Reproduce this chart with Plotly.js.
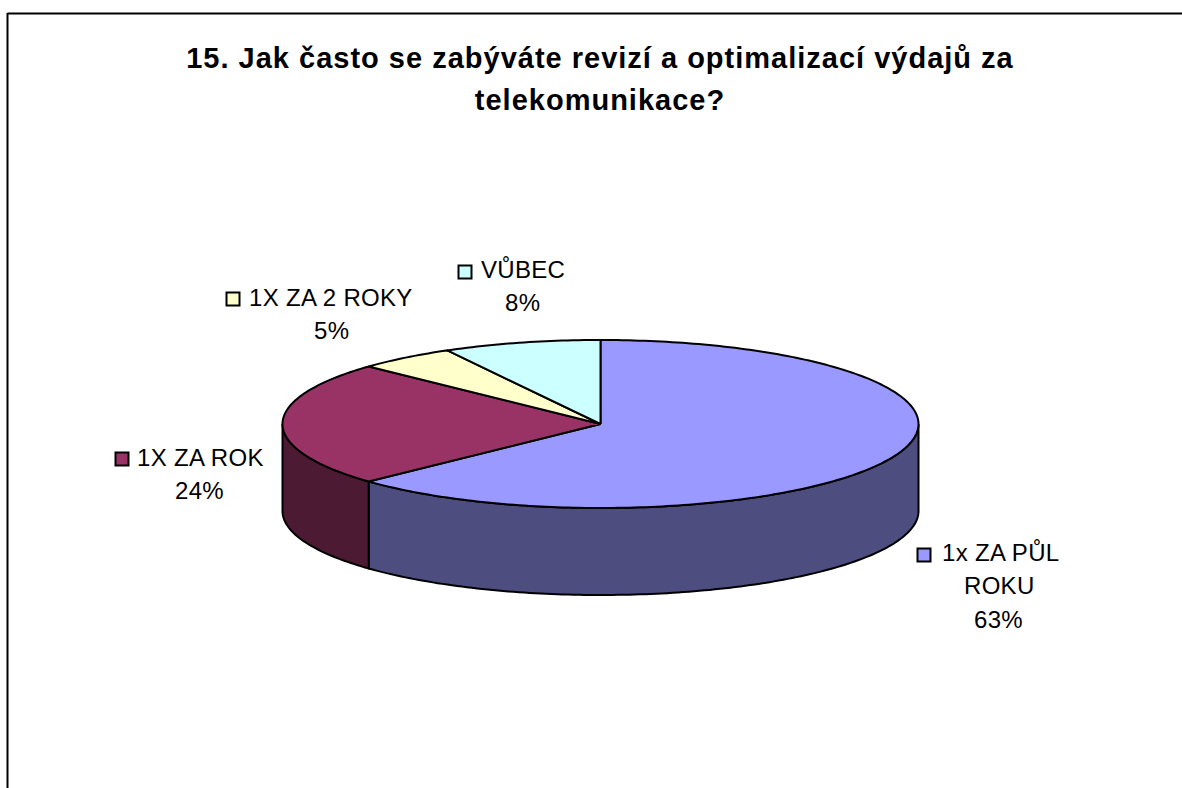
<!DOCTYPE html>
<html>
<head>
<meta charset="utf-8">
<script src="https://cdn.plot.ly/plotly-3.0.1.min.js"></script>
<style>
html,body{margin:0;padding:0;background:#fff;overflow:hidden}
#chart{width:1182px;height:788px}
.gtitle{letter-spacing:1px}
.annotation-text{letter-spacing:.3px}
</style>
</head>
<body>
<div id="chart"></div>
<script>
// Data
const categories = ["1x ZA PŮL ROKU", "1X ZA ROK", "1X ZA 2 ROKY", "VŮBEC"];
const percents = [63, 24, 5, 8];
const labelLines = [["1x ZA PŮL", "ROKU"], ["1X ZA ROK"], ["1X ZA 2 ROKY"], ["VŮBEC"]];
const chartTitle = "15. Jak často se zabýváte revizí a optimalizací výdajů za<br>telekomunikace?";

// Styles and geometry
const topColors = ["#9999FF", "#993366", "#FFFFCC", "#CCFFFF"];
const wallColors = ["#4D4D80", "#4D1A33", "#808066", "#668080"];
const pie = {cx: 600.5, cy: 424, rx: 318, ry: 84, depth: 87};
const placement = [
  {key: [924, 555], centers: [1000, 999], ys: [552, 585], pctX: 998.5, pctY: 619},
  {key: [122, 459], centers: [200], ys: [457], pctX: 199, pctY: 490},
  {key: [233, 299], centers: [330.5], ys: [297], pctX: 331, pctY: 330},
  {key: [465, 272], centers: [523], ys: [269], pctX: 522, pctY: 302}
];

function pt(deg, dy) {
  const a = deg * Math.PI / 180;
  return [pie.cx + pie.rx * Math.sin(a), pie.cy - pie.ry * Math.cos(a) + (dy || 0)];
}
function arc(a0, a1, dy) {
  const out = [], n = Math.max(2, Math.ceil(Math.abs(a1 - a0)));
  for (let i = 0; i <= n; i++) out.push(pt(a0 + (a1 - a0) * i / n, dy));
  return out;
}
function poly(points, fill) {
  return {
    type: "scatter", mode: "lines", fill: "toself", fillcolor: fill,
    x: points.map(p => p[0]), y: points.map(p => p[1]),
    line: {color: "#000", width: 2, simplify: false},
    hoverinfo: "skip", showlegend: false
  };
}

const total = percents.reduce((s, v) => s + v, 0);
const walls = [], tops = [], keys = [], annotations = [];
const labelFont = {family: "Liberation Sans", size: 24, color: "#000"};
let start = 0;
percents.forEach((v, i) => {
  const end = start + v / total * 360;
  const w0 = Math.max(start, 90), w1 = Math.min(end, 270);
  if (w1 > w0) {
    const pts = arc(w0, w1, 0).concat(arc(w1, w0, pie.depth));
    pts.push(pts[0]);
    walls.push(poly(pts, wallColors[i]));
  }
  const wedge = [[pie.cx, pie.cy]].concat(arc(start, end, 0));
  wedge.push([pie.cx, pie.cy]);
  tops.push(Object.assign(poly(wedge, topColors[i]), {name: categories[i]}));

  const pl = placement[i];
  keys.push({
    type: "scatter", mode: "markers", x: [pl.key[0]], y: [pl.key[1]],
    marker: {symbol: "square", size: 13, color: topColors[i], line: {color: "#000", width: 2}},
    hoverinfo: "skip", showlegend: false
  });
  labelLines[i].forEach((t, j) => annotations.push({
    x: pl.centers[j], y: pl.ys[j], text: t, showarrow: false,
    xanchor: "center", yanchor: "middle", font: labelFont
  }));
  annotations.push({
    x: pl.pctX, y: pl.pctY, text: v + "%", showarrow: false,
    xanchor: "center", yanchor: "middle", font: labelFont
  });
  start = end;
});

const layout = {
  width: 1182, height: 788,
  margin: {l: 0, r: 0, t: 0, b: 0},
  paper_bgcolor: "#fff", plot_bgcolor: "#fff",
  title: {
    text: "<b>" + chartTitle.replace("<br>", "</b><br><b>") + "</b>",
    x: 600 / 1182, xanchor: "center", xref: "paper",
    y: 1 - 68 / 788, yanchor: "top", yref: "container",
    font: {family: "Liberation Sans", size: 29, color: "#000"}
  },
  xaxis: {range: [0, 1182], visible: false, fixedrange: true},
  yaxis: {range: [788, 0], visible: false, fixedrange: true},
  shapes: [
    {type: "line", xref: "x", yref: "y", x0: 7.5, x1: 1182, y0: 13.5, y1: 13.5, line: {color: "#000", width: 2}},
    {type: "line", xref: "x", yref: "y", x0: 7.5, x1: 7.5, y0: 13, y1: 788, line: {color: "#000", width: 2}}
  ],
  annotations: annotations,
  showlegend: false
};

Plotly.newPlot("chart", walls.concat(tops, keys), layout, {displayModeBar: false, responsive: false}).then(() => {
  // The reference's title lines sit further apart than Plotly's default line height.
  document.querySelectorAll(".gtitle tspan.line").forEach((el, i) => {
    if (i > 0) el.setAttribute("dy", "42px");
  });
});
</script>
</body>
</html>
